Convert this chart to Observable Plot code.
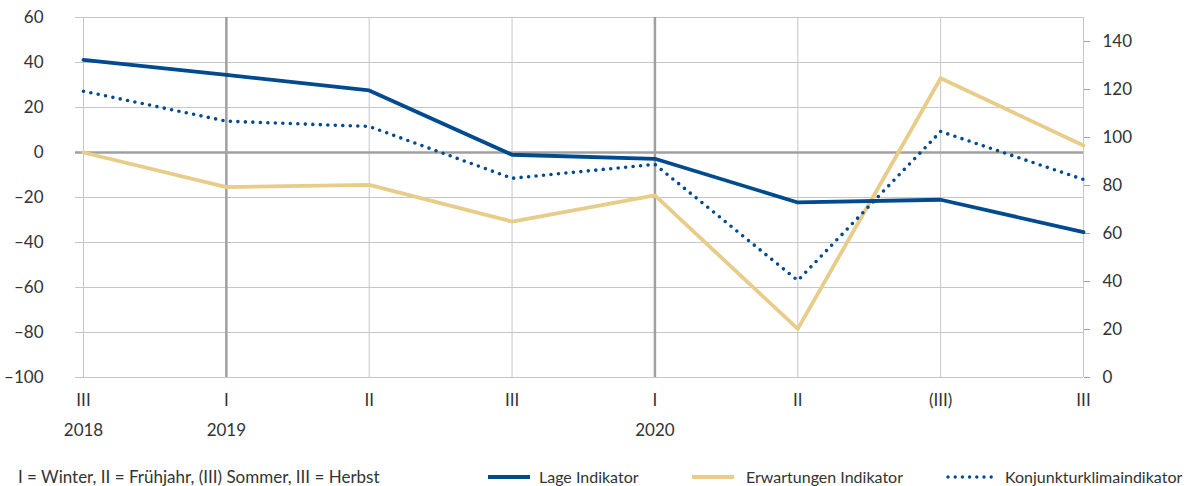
<!DOCTYPE html>
<html><head><meta charset="utf-8">
<script src="https://cdn.jsdelivr.net/npm/d3@7"></script>
<script src="https://cdn.jsdelivr.net/npm/@observablehq/plot@0.6"></script>
<style>
body{margin:0;background:#fff;font-family:Lato,sans-serif;color:#333;}
#wrap{position:relative;width:1202px;height:486px;overflow:hidden;}
.lg{position:absolute;top:467px;height:20px;line-height:20px;font-size:16px;white-space:nowrap;display:flex;align-items:center;}
.lg svg{display:block;}
</style></head><body>
<div id="wrap"><div id="chart"></div></div>
<script>
// Categories
const periods = ["III", "I", "II", "III", "I", "II", "(III)", "III"];
const yearLabels = ["2018", "2019", "", "", "2020", "", "", ""];
// Series (left axis: Lage, Erwartungen; right axis: Konjunkturklima)
const lage = [41.2, 34.5, 27.6, -1.0, -2.8, -22.2, -21.0, -35.4];
const erwartungen = [0, -15.4, -14.4, -30.7, -19.1, -78.4, 33.0, 3.1];
const klima = [119.3, 106.8, 104.6, 83.0, 88.8, 40.4, 102.5, 82.5];
// Tick labels
const leftTicks = [-100, -80, -60, -40, -20, 0, 20, 40, 60];
const rightTicks = [0, 20, 40, 60, 80, 100, 120, 140];
const seriesNames = ["Lage Indikator", "Erwartungen Indikator", "Konjunkturklimaindikator"];
const note = "I = Winter, II = Frühjahr, (III) Sommer, III = Herbst";

const BLUE = "#004a8d", GOLD = "#e8cd8a", GRID = "#c6c6c6", DARK = "#a0a0a0";
// right axis value -> left axis units (0 ↔ -100, 150 ↔ 60)
const toLeft = r => r * 160 / 150 - 100;
const toRight = l => Math.round((l + 100) * 150 / 160);
const fmt = d => d < 0 ? "–" + Math.abs(d) : String(d);
const idx = d3.range(periods.length);
const yearIdx = idx.filter(i => yearLabels[i] !== "" && i > 0);

const chart = Plot.plot({
  width: 1202, height: 445,
  marginTop: 17, marginBottom: 68, marginLeft: 83, marginRight: 119,
  style: {fontFamily: "Lato, sans-serif", fontSize: "17px", color: "#333", background: "#fff"},
  x: {type: "point", domain: idx, padding: 0, round: false},
  y: {domain: [-100, 60]},
  marks: [
    Plot.ruleY(leftTicks, {stroke: GRID, strokeWidth: 1}),
    Plot.ruleX(idx, {stroke: GRID, strokeWidth: 1}),
    Plot.ruleX(yearIdx, {stroke: DARK, strokeWidth: 2.5}),
    Plot.ruleY([0], {stroke: DARK, strokeWidth: 2.5}),
    Plot.axisY({ticks: leftTicks, tickFormat: fmt, tickSize: 8, tickPadding: 32, stroke: GRID, fill: "#333"}),
    Plot.axisY({ticks: [0], tickFormat: () => "", tickSize: 8, stroke: DARK, strokeWidth: 2.5}),
    Plot.axisY({anchor: "right", ticks: rightTicks.map(toLeft), tickFormat: d => String(toRight(d)), tickSize: 6, tickPadding: 13, stroke: "#a0a0a0", fill: "#333"}),
    Plot.axisX({ticks: idx, tickFormat: i => periods[i], tickSize: 0, tickPadding: 16, fill: "#333"}),
    Plot.axisX({ticks: idx.filter(i => yearLabels[i] !== ""), tickFormat: i => yearLabels[i], tickSize: 0, tickPadding: 46, fill: "#333"}),
    Plot.lineY(erwartungen, {x: (d, i) => i, y: d => d, stroke: GOLD, strokeWidth: 3.8}),
    Plot.lineY(lage, {x: (d, i) => i, y: d => d, stroke: BLUE, strokeWidth: 3.8}),
    Plot.lineY(klima, {x: (d, i) => i, y: d => toLeft(d), stroke: BLUE, strokeWidth: 3.6, strokeDasharray: "0 7.5", strokeLinecap: "round"})
  ]
});
const wrap = document.getElementById("wrap");
document.getElementById("chart").appendChild(chart);

function swatch(color, dotted, w) {
  const ns = "http://www.w3.org/2000/svg";
  const s = document.createElementNS(ns, "svg");
  s.setAttribute("width", w); s.setAttribute("height", 10);
  const l = document.createElementNS(ns, "line");
  l.setAttribute("x1", dotted ? 2 : 0); l.setAttribute("x2", dotted ? w - 2 : w);
  l.setAttribute("y1", 5); l.setAttribute("y2", 5);
  l.setAttribute("stroke", color); l.setAttribute("stroke-width", dotted ? 3.4 : 4);
  if (dotted) { l.setAttribute("stroke-dasharray", "0 7.2"); l.setAttribute("stroke-linecap", "round"); }
  s.appendChild(l);
  return s;
}
function item(left, content, size) {
  const d = document.createElement("div");
  d.className = "lg"; d.style.left = left + "px";
  if (size) d.style.fontSize = size + "px";
  content.forEach(c => d.appendChild(c));
  wrap.appendChild(d);
}
function txt(t, ml) { const s = document.createElement("span"); s.textContent = t; s.style.marginLeft = ml + "px"; return s; }
item(18, [txt(note, 0)], 17);
item(488, [swatch(BLUE, false, 42), txt(seriesNames[0], 9)]);
item(692, [swatch(GOLD, false, 42), txt(seriesNames[1], 12)]);
item(946, [swatch(BLUE, true, 48), txt(seriesNames[2], 11)]);
</script>
</body></html>
